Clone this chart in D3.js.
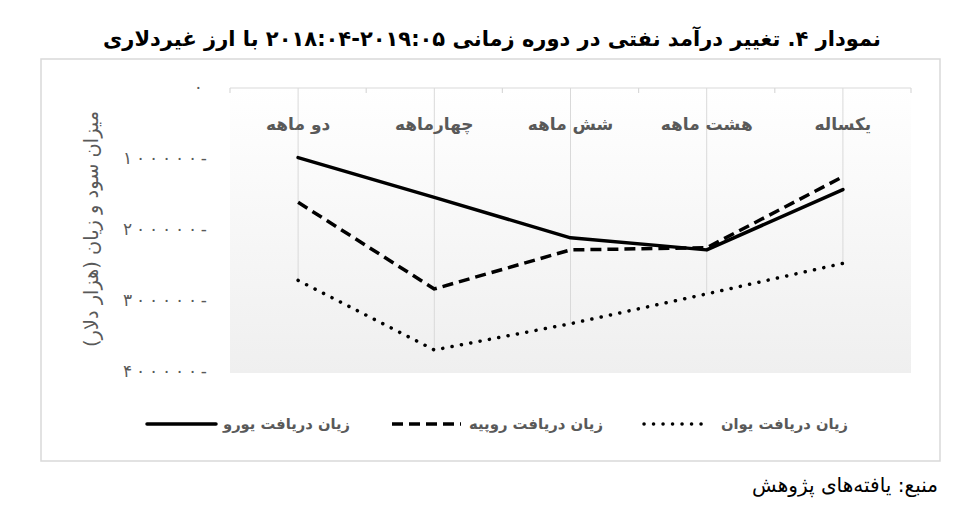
<!DOCTYPE html>
<html>
<head>
<meta charset="utf-8">
<style>
    body { margin: 0; background: #fff; }
    svg { display: block; font-family: "DejaVu Sans", sans-serif; }
</style>
</head>
<body>
<svg width="968" height="518"></svg>

<script src="https://d3js.org/d3.v7.min.js"></script>
<script>
    // categories, left to right as drawn
    let categories = ["دو ماهه", "چهارماهه", "شش ماهه", "هشت ماهه", "یکساله"];

    // losses in thousand dollars (negative values)
    let euroLoss  = [-98000, -154000, -211000, -228000, -143000];
    let rupeeLoss = [-161000, -283000, -228000, -225000, -125000];
    let yuanLoss  = [-271000, -369000, -332000, -290000, -247000];

    let yTicks = [0, -100000, -200000, -300000, -400000];

    let seriesNames = ["زیان دریافت یورو", "زیان دریافت روپیه", "زیان دریافت یوان"];

    let svg = d3.select("svg");

    // persian digits
    function fa(n) {
        let s = String(Math.abs(n)).replace(/[0-9]/g, c => "۰۱۲۳۴۵۶۷۸۹"[+c]);
        return n < 0 ? s + "-" : s;
    }

    // shrink or grow font so the text fills a given width
    function fit(sel, w) {
        let node = sel.node();
        let fs = parseFloat(sel.attr("font-size"));
        let len = node.getComputedTextLength();
        if (len > 0) sel.attr("font-size", (fs * w / len).toFixed(2));
    }

    let plotLeft = 230, plotRight = 911, plotTop = 88, plotBottom = 372;

    let x = d3.scalePoint()
        .domain(categories)
        .range([plotLeft, plotRight])
        .padding(0.5);

    let y = d3.scaleLinear()
        .domain([0, -400000])
        .range([plotTop, plotBottom]);

    // title (the period is kept left-to-right with an isolate)
    let title = svg.append("text")
        .attr("x", 492)
        .attr("y", 46)
        .attr("text-anchor", "middle")
        .attr("font-size", 22)
        .attr("font-weight", "bold")
        .attr("fill", "#000")
        .text("نمودار ۴. تغییر درآمد نفتی در دوره زمانی \u2066۲۰۱۸:۰۴-۲۰۱۹:۰۵\u2069 با ارز غیردلاری");
    fit(title, 778);

    // chart border
    svg.append("rect")
        .attr("x", 41)
        .attr("y", 59)
        .attr("width", 899)
        .attr("height", 402)
        .style("fill", "none")
        .style("stroke", "#d9d9d9")
        .style("stroke-width", 1.5);

    // plot area gradient
    let grad = svg.append("defs").append("linearGradient")
        .attr("id", "bg")
        .attr("x1", 0).attr("y1", 0)
        .attr("x2", 0).attr("y2", 1);
    grad.append("stop").attr("offset", "0%").attr("stop-color", "#ffffff");
    grad.append("stop").attr("offset", "100%").attr("stop-color", "#efefef");

    svg.append("rect")
        .attr("x", plotLeft)
        .attr("y", plotTop)
        .attr("width", plotRight - plotLeft)
        .attr("height", y(-400000) - plotTop + 1)
        .style("fill", "url(#bg)");

    // drop lines from axis to lowest point
    let allSeries = [euroLoss, rupeeLoss, yuanLoss];
    svg.append("g")
        .selectAll("line")
        .data(categories)
        .join("line")
        .attr("x1", d => x(d))
        .attr("x2", d => x(d))
        .attr("y1", plotTop)
        .attr("y2", (d, i) => y(d3.min(allSeries, s => s[i])))
        .style("stroke", "#d9d9d9")
        .style("stroke-width", 1);

    // category axis at the top (value 0)
    svg.append("line")
        .attr("x1", plotLeft)
        .attr("x2", plotRight)
        .attr("y1", y(0))
        .attr("y2", y(0))
        .style("stroke", "#d9d9d9")
        .style("stroke-width", 1.2);

    let step = x.step();
    svg.append("g")
        .selectAll("line")
        .data(d3.range(categories.length + 1))
        .join("line")
        .attr("x1", i => plotLeft + i * step)
        .attr("x2", i => plotLeft + i * step)
        .attr("y1", y(0))
        .attr("y2", y(0) + 5)
        .style("stroke", "#d9d9d9")
        .style("stroke-width", 1.2);

    svg.append("g")
        .selectAll("text")
        .data(categories)
        .join("text")
        .attr("x", d => x(d))
        .attr("y", 130)
        .attr("text-anchor", "middle")
        .attr("font-size", 17)
        .attr("font-weight", "bold")
        .attr("fill", "#595959")
        .text(d => d);

    // value axis labels, spread out like the original
    svg.append("g")
        .selectAll("text")
        .data(yTicks)
        .join("text")
        .attr("x", d => d === 0 ? 203 : 207)
        .attr("y", d => y(d) + 5)
        .attr("text-anchor", "end")
        .attr("direction", "ltr")
        .attr("font-size", 17)
        .attr("textLength", d => d === 0 ? null : 84)
        .attr("lengthAdjust", "spacing")
        .attr("fill", "#595959")
        .text(d => fa(d));

    let ytitle = svg.append("text")
        .attr("transform", "translate(98,229) rotate(-90)")
        .attr("text-anchor", "middle")
        .attr("font-size", 15)
        .attr("fill", "#595959")
        .text("میزان سود و زیان (هزار دلار)");
    fit(ytitle, 236);

    // lines
    let styles = [
        { dash: null, cap: "round" },
        { dash: "11,6", cap: "butt" },
        { dash: "0.1,9.4", cap: "round" }
    ];

    let line = d3.line()
        .x((d, i) => x(categories[i]))
        .y(d => y(d));

    svg.append("g")
        .selectAll("path")
        .data(allSeries)
        .join("path")
        .attr("d", d => line(d))
        .style("fill", "none")
        .style("stroke", "#000")
        .style("stroke-width", 3.5)
        .style("stroke-linejoin", "round")
        .style("stroke-linecap", (d, i) => styles[i].cap)
        .style("stroke-dasharray", (d, i) => styles[i].dash);

    // legend
    let legendPos = [
        { x1: 147, x2: 216, tx: 350, tw: 127 },
        { x1: 392, x2: 461, tx: 603, tw: 134 },
        { x1: 644, x2: 703, tx: 848, tw: 127 }
    ];
    let ly = 424;

    legendPos.forEach((p, i) => {
        svg.append("line")
            .attr("x1", p.x1)
            .attr("x2", p.x2)
            .attr("y1", ly)
            .attr("y2", ly)
            .style("stroke", "#000")
            .style("stroke-width", 3.5)
            .style("stroke-linecap", styles[i].cap)
            .style("stroke-dasharray", styles[i].dash);

        let t = svg.append("text")
            .attr("x", p.tx)
            .attr("y", ly + 5)
            .attr("text-anchor", "end")
            .attr("font-size", 14)
            .attr("font-weight", "bold")
            .attr("fill", "#595959")
            .text(seriesNames[i]);
        fit(t, p.tw);
    });

    // source note
    let src = svg.append("text")
        .attr("x", 938)
        .attr("y", 492)
        .attr("text-anchor", "end")
        .attr("font-size", 16)
        .attr("fill", "#000")
        .text("منبع: یافته‌های پژوهش");
    fit(src, 186);
</script>
</body>
</html>
